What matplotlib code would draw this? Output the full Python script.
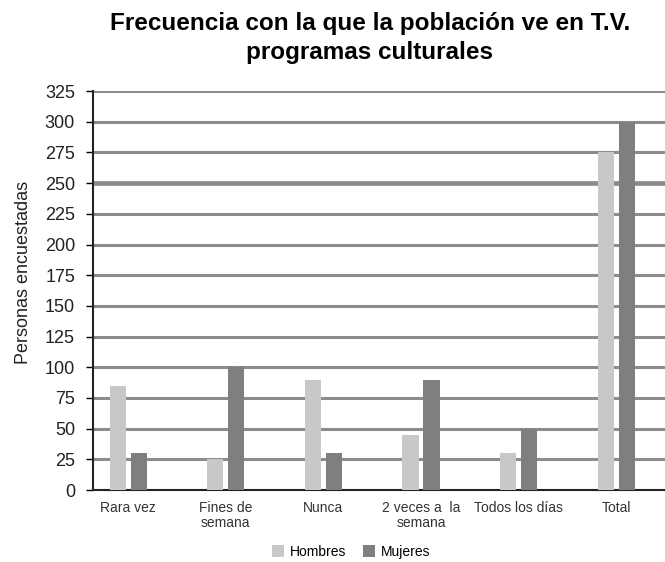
import matplotlib
matplotlib.use("Agg")
import matplotlib.pyplot as plt
import numpy as np

plt.rcParams['font.family'] = ['Liberation Sans', 'DejaVu Sans']

categories = ["Rara vez", "Fines de\nsemana", "Nunca", "2 veces a  la\nsemana", "Todos los días", "Total"]
hombres = [85, 25, 90, 45, 30, 275]
mujeres = [30, 100, 30, 90, 50, 300]
yticks = list(range(0, 326, 25))

fig = plt.figure(figsize=(6.65, 5.62), dpi=100)
ax = fig.add_axes([0.14, 0.128, 0.86, 0.71])

x = np.arange(len(categories))
w = 0.165
gap = 0.05
ax.bar(x - w/2 - gap/2, hombres, w, color="#c8c8c8", label="Hombres", zorder=3)
ax.bar(x + w/2 + gap/2, mujeres, w, color="#7f7f7f", label="Mujeres", zorder=3)

ax.set_ylim(0, 325)
ax.set_xlim(-0.36, 5.5)
ax.set_yticks(yticks)
ax.set_yticklabels([str(v) for v in yticks], fontsize=13, color="#222222")
ax.set_xticks(x)
ax.set_xticklabels(categories, fontsize=10, color="#333333", linespacing=1.1)
ax.tick_params(axis='x', length=0, pad=8)
ax.tick_params(axis='y', length=5, width=1, direction='out', pad=8)

for v in yticks[1:]:
    ax.axhline(v, color="#8c8c8c", lw=2.2 if v != 250 else 3.4, zorder=1)

for s in ["top", "right"]:
    ax.spines[s].set_visible(False)
ax.spines["left"].set_color("#222222")
ax.spines["left"].set_linewidth(1.5)
ax.spines["bottom"].set_color("#222222")
ax.spines["bottom"].set_linewidth(1.5)

ax.set_ylabel("Personas encuestadas", fontsize=13, color="#222222")
ax.yaxis.set_label_coords(-0.107, 0.545)

fig.suptitle("Frecuencia con la que la población ve en T.V.\nprogramas culturales",
             fontsize=17.5, fontweight="bold", x=0.556, y=0.978, linespacing=1.33)

fig.legend(loc="lower center", bbox_to_anchor=(0.528, -0.012), ncol=2, frameon=False,
           fontsize=10, handlelength=0.9, handleheight=0.9, columnspacing=1.2,
           handletextpad=0.4, borderaxespad=0.3)

fig.savefig("out.png", dpi=100)
